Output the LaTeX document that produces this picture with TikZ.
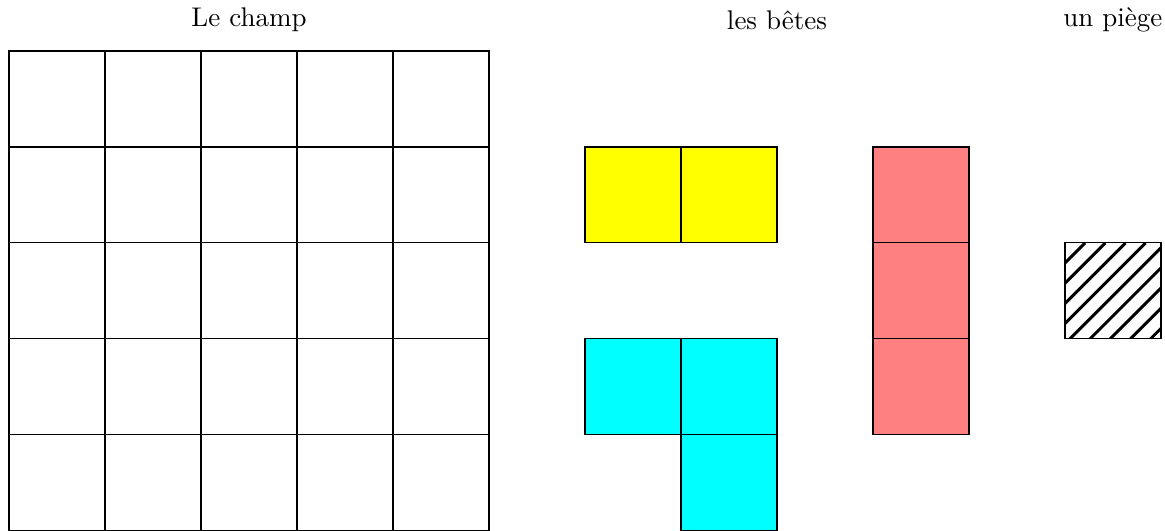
\documentclass[tikz,border=0pt]{standalone}
\usepackage{tikz}
\usetikzlibrary{positioning}
\definecolor{betejaune}{RGB}{255,255,0}
\definecolor{betecyan}{RGB}{0,255,255}
\definecolor{beterouge}{RGB}{255,128,128}

\begin{document}
\begin{tikzpicture}[x=1.25cm, y=1.25cm]
    \useasboundingbox (-0.094,0) rectangle (12.042,5.531);
    \tikzset{cell/.style={draw=black, line width=0.4pt}}

    % Le champ : grille 5x5
    \foreach \i in {0,...,4} {
        \foreach \j in {0,...,4} {
            \draw[cell] (\i,\j) rectangle ++(1,1);
        }
    }
    \node (champ) at (2.5,5.32) {Le champ};

    % Les bêtes
    \foreach \i in {6,7} {
        \draw[cell, fill=betejaune] (\i,3) rectangle ++(1,1);
        \draw[cell, fill=betecyan] (\i,1) rectangle ++(1,1);
    }
    \draw[cell, fill=betecyan] (7,0) rectangle ++(1,1);
    \foreach \j in {1,2,3} {
        \draw[cell, fill=beterouge] (9,\j) rectangle ++(1,1);
    }
    \node (betes) at (8,5.32) {les bêtes};

    % Un piège
    \begin{scope}
        \clip (11,2) rectangle (12,3);
        \foreach \k in {-1,-0.79,...,1} {
            \draw[line width=1.1pt] (11+\k,2) -- ++(1,1);
        }
    \end{scope}
    \draw[cell] (11,2) rectangle (12,3);
    \node (piege) at (11.5,5.32) {un piège};
\end{tikzpicture}
\end{document}
